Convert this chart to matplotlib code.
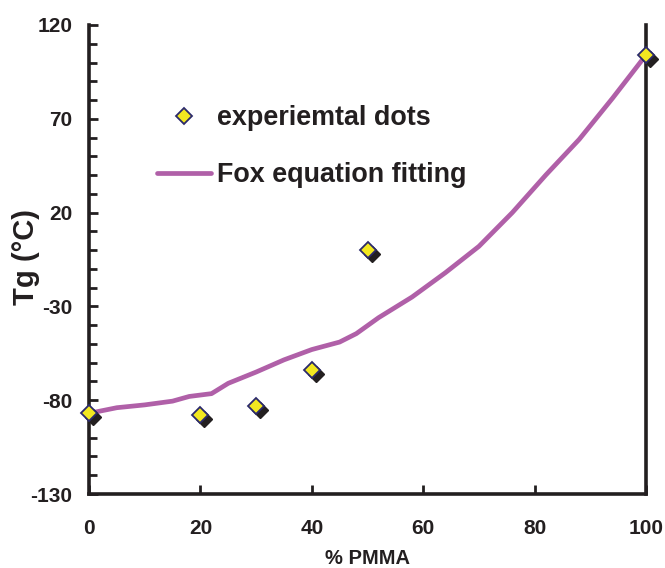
import matplotlib
matplotlib.use("Agg")
import matplotlib.pyplot as plt
from matplotlib.ticker import MultipleLocator
from matplotlib.transforms import offset_copy

# Experimental Tg values
pmma_exp = [0, 20, 30, 40, 50, 100]
tg_exp = [-87, -88, -83, -64, 0, 104]

# Fox equation curve
pmma_fox = [0, 5, 10, 15, 18, 22, 25, 30, 35, 40, 45, 48, 52, 58, 64, 70, 76, 82, 88, 94, 100]
tg_fox = [-87, -84, -82.5, -80.5, -78, -76.5, -71, -65, -58.5, -53, -49, -44.5,
          -36, -25, -12, 2, 20, 40, 59, 81, 104]

DARK = "#231F20"
PURPLE = "#B060A8"

plt.rcParams['font.family'] = ['Liberation Sans', 'DejaVu Sans']
plt.rcParams['font.weight'] = 'bold'
plt.rcParams['axes.unicode_minus'] = False

fig = plt.figure(figsize=(6.65, 5.68), dpi=100)
ax = fig.add_axes([89 / 665, 1 - 494 / 568, 557 / 665, 469 / 568])

ax.plot(pmma_fox, tg_fox, color=PURPLE, linewidth=3.4, solid_capstyle='round',
        label="Fox equation fitting", zorder=2)

# shadow under the markers
shadow = offset_copy(ax.transData, fig=fig, x=4, y=-4, units='dots')
ax.plot(pmma_exp, tg_exp, linestyle='none', marker='D', markersize=8.5,
        color=DARK, transform=shadow, zorder=3, clip_on=False)
ax.plot(pmma_exp, tg_exp, linestyle='none', marker='D', markersize=8.5,
        markerfacecolor="#F2E820", markeredgecolor="#2B2A6B", markeredgewidth=1.3,
        label="experiemtal dots", zorder=4, clip_on=False)

ax.set_xlim(0, 100)
ax.set_ylim(-130, 120)
ax.set_xticks([0, 20, 40, 60, 80, 100])
ax.set_yticks([-130, -80, -30, 20, 70, 120])
ax.yaxis.set_minor_locator(MultipleLocator(10))

for side in ['left', 'bottom', 'right']:
    ax.spines[side].set_linewidth(2.6)
    ax.spines[side].set_color(DARK)
ax.spines['top'].set_visible(False)

ax.tick_params(axis='both', which='both', direction='in', color=DARK, width=2,
               labelsize=15, labelcolor=DARK)
ax.tick_params(axis='y', which='major', length=6.5, pad=12)
ax.tick_params(axis='y', which='minor', length=5.5)
ax.tick_params(axis='x', which='major', length=6.5, pad=18)

ax.set_xlabel("% PMMA", fontsize=14.5, fontweight='bold', color=DARK, labelpad=8)
ax.set_ylabel("Tg (°C)", fontsize=21, fontweight='bold', color=DARK)
ax.yaxis.set_label_coords(-0.088, 0.505)

handles, labels = ax.get_legend_handles_labels()
order = [1, 0]
ax.legend([handles[i] for i in order], [labels[i] for i in order],
          loc='upper left', bbox_to_anchor=(157 / 665, 1 - 105 / 568),
          bbox_transform=fig.transFigure, frameon=False, borderpad=0,
          borderaxespad=0, handlelength=2.0, handletextpad=0.22, labelspacing=1.15,
          prop={'size': 19.4, 'weight': 'bold'}, labelcolor=DARK)

fig.savefig("out.png", dpi=100)
